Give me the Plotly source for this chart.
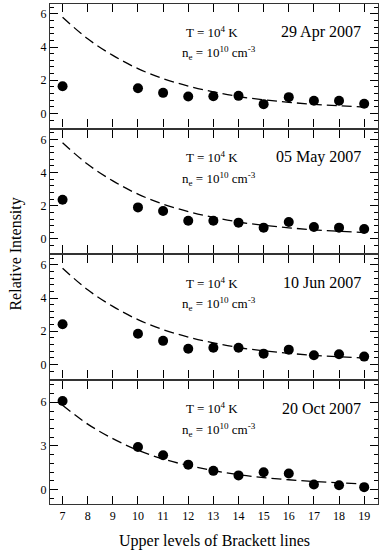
import plotly.graph_objects as go
from plotly.subplots import make_subplots

# Upper level n of the Brackett line (Br n -> 4)
levels = [7, 10, 11, 12, 13, 14, 15, 16, 17, 18, 19]
model_levels = [7, 8, 9, 10, 11, 12, 13, 14, 15, 16, 17, 18, 19]

# Case B model, T = 1e4 K, ne = 1e10 cm^-3 (dashed curve)
model_intensity = [5.8, 4.5, 3.5, 2.7, 2.1, 1.65, 1.3, 1.02, 0.82, 0.67, 0.55, 0.46, 0.38]

# observed relative intensities
apr29 = [1.64, 1.52, 1.24, 1.02, 1.04, 1.06, 0.56, 0.98, 0.76, 0.76, 0.58]
may05 = [2.36, 1.90, 1.68, 1.10, 1.10, 0.98, 0.68, 1.02, 0.72, 0.68, 0.60]
jun10 = [2.42, 1.85, 1.42, 0.94, 1.00, 1.00, 0.65, 0.89, 0.55, 0.61, 0.47]
oct20 = [6.09, 2.92, 2.36, 1.71, 1.28, 0.97, 1.19, 1.10, 0.34, 0.29, 0.16]

observations = [apr29, may05, jun10, oct20]
dates = ["29 Apr 2007", "05 May 2007", "10 Jun 2007", "20 Oct 2007"]

SERIF = "Liberation Serif"
INK = "#333"
TICK = "black"

fig = make_subplots(rows=4, cols=1, shared_xaxes=True, vertical_spacing=0.004)

for i, (obs, date) in enumerate(zip(observations, dates), start=1):
    fig.add_trace(
        go.Scatter(
            x=model_levels,
            y=model_intensity,
            mode="lines",
            line=dict(color="black", width=1.3, dash="10px,5px", shape="spline"),
            showlegend=False,
            hoverinfo="skip",
        ),
        row=i,
        col=1,
    )
    fig.add_trace(
        go.Scatter(
            x=levels,
            y=obs,
            mode="markers",
            marker=dict(color="black", size=10),
            showlegend=False,
            name=date,
        ),
        row=i,
        col=1,
    )
    xref = "x" if i == 1 else f"x{i}"
    yref = "y" if i == 1 else f"y{i}"
    fig.add_annotation(
        text="T = 10<sup>4</sup> K",
        x=0.41, y=0.775, xref=f"{xref} domain", yref=f"{yref} domain",
        xanchor="left", yanchor="middle", showarrow=False,
        font=dict(family=SERIF, size=13, color="black"),
    )
    fig.add_annotation(
        text="n<sub>e</sub> = 10<sup>10</sup> cm<sup>-3</sup>",
        x=0.395, y=0.6, xref=f"{xref} domain", yref=f"{yref} domain",
        xanchor="left", yanchor="middle", showarrow=False,
        font=dict(family=SERIF, size=13, color="black"),
    )
    fig.add_annotation(
        text=date,
        x=0.955, y=0.775, xref=f"{xref} domain", yref=f"{yref} domain",
        xanchor="right", yanchor="middle", showarrow=False,
        font=dict(family=SERIF, size=16, color="black"),
    )

fig.update_xaxes(
    range=[6.5, 19.55],
    tickmode="linear",
    tick0=7,
    dtick=1,
    ticks="inside",
    ticklen=8,
    tickwidth=1.2,
    tickcolor=TICK,
    showline=True,
    linecolor=INK,
    linewidth=1.2,
    mirror="ticks",
    showgrid=False,
    zeroline=False,
    tickfont=dict(family=SERIF, size=12, color="black"),
)

common_y = dict(
    ticks="inside",
    ticklen=8,
    tickwidth=1.2,
    tickcolor=TICK,
    showline=True,
    linecolor=INK,
    linewidth=1.2,
    mirror="ticks",
    showgrid=False,
    zeroline=False,
    tickfont=dict(family=SERIF, size=12, color="black"),
)
for r in (1, 2, 3):
    fig.update_yaxes(
        range=[-0.85, 6.6], tickmode="linear", tick0=0, dtick=2,
        minor=dict(ticks="inside", ticklen=4, tickwidth=1.2, tick0=0, dtick=0.4, tickcolor=TICK),
        row=r, col=1, **common_y,
    )
fig.update_yaxes(
    range=[-1.0, 7.5], tickmode="linear", tick0=0, dtick=3,
    minor=dict(ticks="inside", ticklen=4, tickwidth=1.2, tick0=0, dtick=0.6, tickcolor=TICK),
    row=4, col=1, **common_y,
)

fig.add_annotation(
    text="Relative Intensity",
    x=-0.105, y=0.5, xref="paper", yref="paper",
    textangle=-90, showarrow=False, xanchor="center", yanchor="middle",
    font=dict(family=SERIF, size=16, color="black"),
)
fig.add_annotation(
    text="Upper levels of Brackett lines",
    x=0.5, y=-0.074, xref="paper", yref="paper",
    showarrow=False, xanchor="center", yanchor="middle",
    font=dict(family=SERIF, size=16, color="black"),
)

fig.update_layout(
    width=381,
    height=554,
    margin=dict(l=50, r=3, t=4, b=50),
    paper_bgcolor="white",
    plot_bgcolor="white",
)

fig.write_html(
    "out.html",
    config={"displayModeBar": False},
    post_script="document.body.style.margin = '0';",
)
